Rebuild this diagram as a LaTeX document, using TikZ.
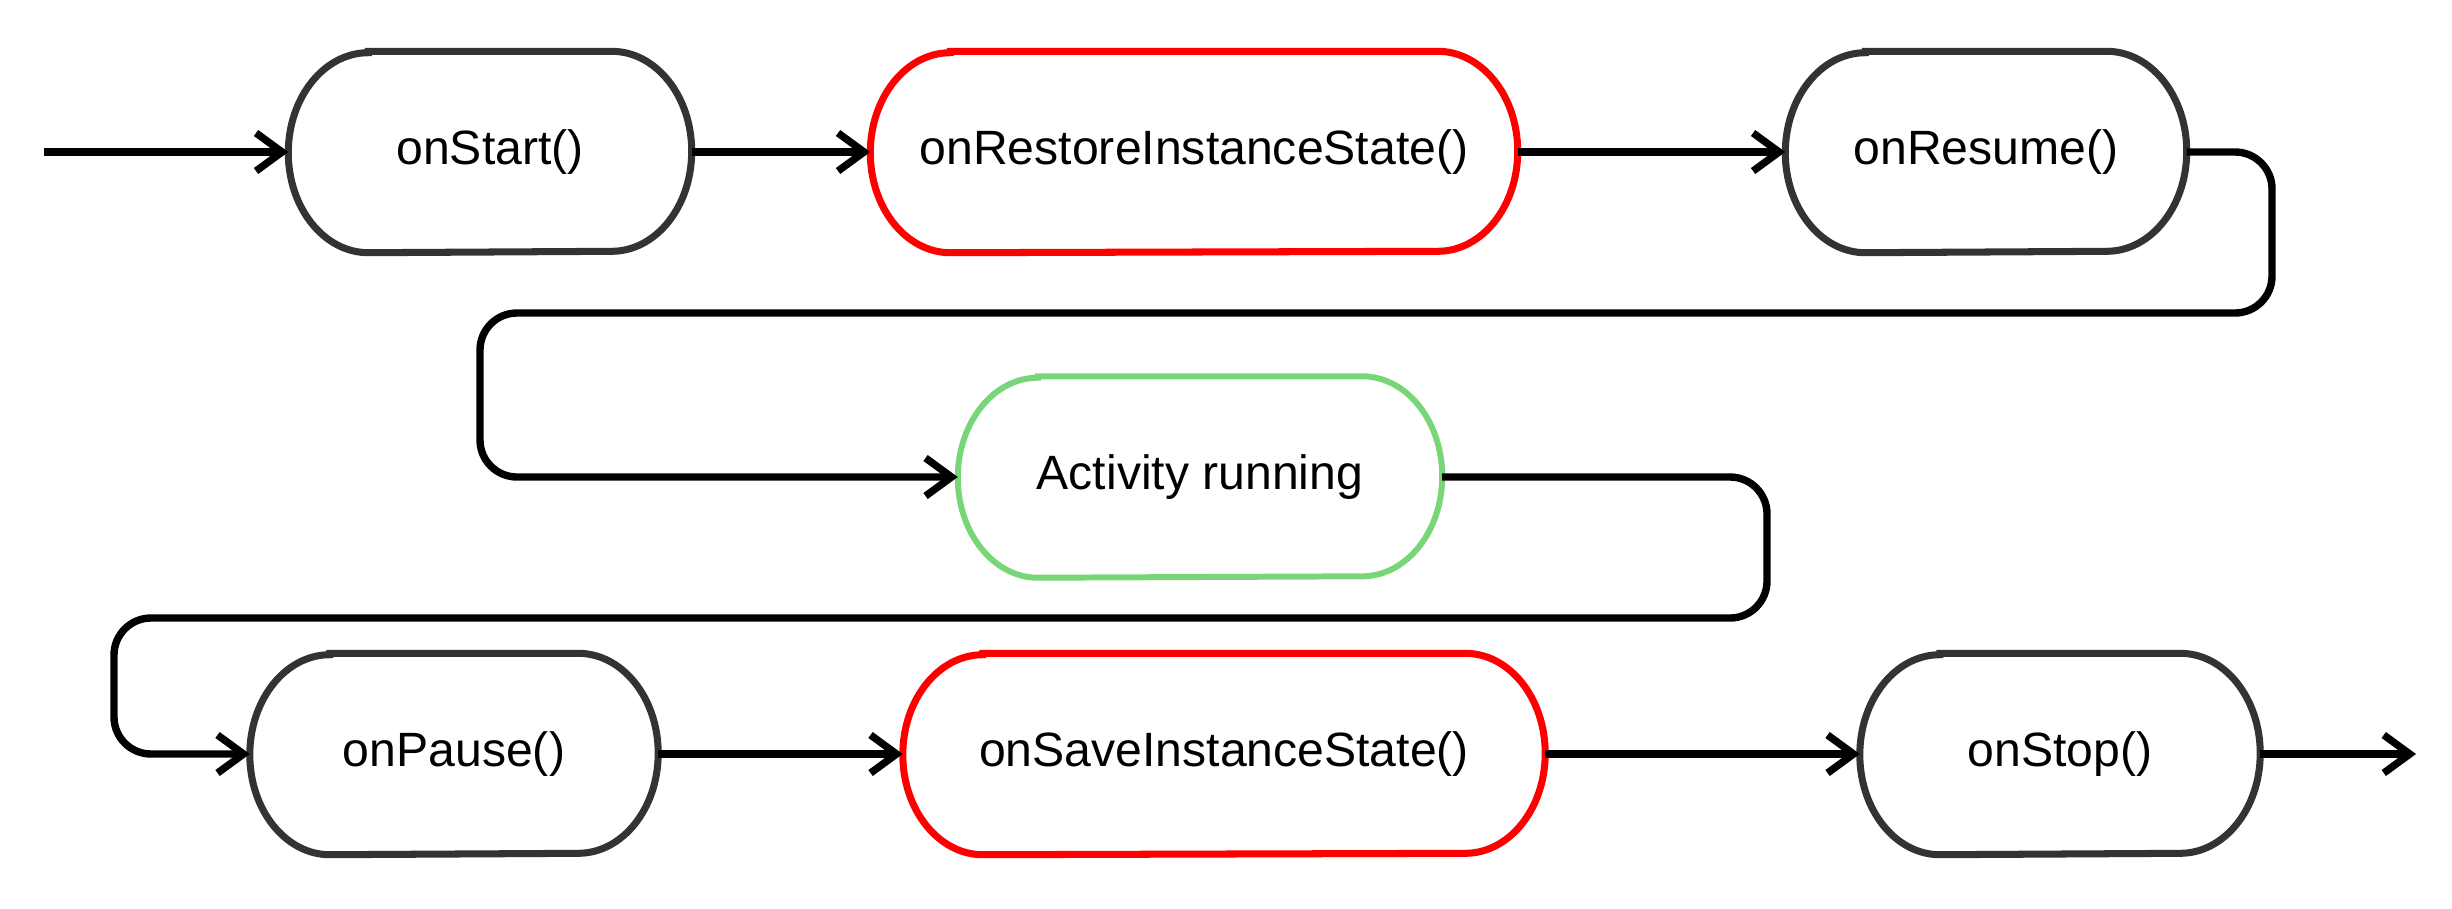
\documentclass[tikz,border=0pt]{standalone}
\usepackage{fontspec}
\setmainfont{Liberation Sans}
\usepackage{xcolor}
\definecolor{lcgray}{RGB}{51,51,51}
\definecolor{lcred}{RGB}{255,0,0}
\definecolor{lcgreen}{RGB}{120,214,120}
\definecolor{lcblack}{RGB}{0,0,0}
\usetikzlibrary{arrows.meta,positioning,calc}

\tikzset{
  stage/.style={minimum height=2cm, inner sep=0pt, align=center,
    font=\fontsize{13.7pt}{16pt}\selectfont},
  flow/.style={line width=2.1pt, lcblack, rounded corners=3.7mm,
    -{Straight Barb[length=2.6mm, width=3.8mm]}},
}

\begin{document}
\begin{tikzpicture}
  \useasboundingbox (0,0) rectangle (24.52,9.08);

  %% Top row: start -> restore -> resume
  \node[stage, minimum width=4.02cm] (start) at (4.90,7.56) {onStart()};
  \node[stage, minimum width=6.46cm] (restore) at (11.94,7.56) {onRestoreInstanceState()};
  \node[stage, minimum width=4.00cm] (resume) at (19.86,7.56) {onResume()};

  %% Middle row: running state
  \node[stage, minimum width=4.83cm] (running) at (12.00,4.31) {Activity running};

  %% Bottom row: pause -> save -> stop
  \node[stage, minimum width=4.07cm] (pause) at (4.54,1.54) {onPause()};
  \node[stage, minimum width=6.41cm] (save) at (12.24,1.54) {onSaveInstanceState()};
  \node[stage, minimum width=3.99cm] (stop) at (20.60,1.54) {onStop()};

  %% Outlines with elliptic corners
  \foreach \n/\c/\w in {start/lcgray/2pt, restore/lcred/2pt, resume/lcgray/2pt,
      running/lcgreen/1.7pt, pause/lcgray/2pt, save/lcred/2pt, stop/lcgray/2pt}
    \draw[\c, line width=\w]
      ([xshift=8mm]\n.north west) -- ([xshift=-8mm]\n.north east)
      arc[start angle=90, end angle=-90, x radius=8mm, y radius=1cm]
      -- ([xshift=8mm]\n.south west)
      arc[start angle=270, end angle=90, x radius=8mm, y radius=1cm] -- cycle;

  %% Free ends and bends
  \coordinate (entry) at (0.44,7.56);
  \coordinate (exit) at (24.16,1.54);
  \coordinate (bendA) at (22.72,5.95);
  \coordinate (bendB) at (4.80,4.31);
  \coordinate (bendC) at (17.67,2.90);
  \coordinate (bendD) at (1.14,1.54);

  %% Connectors
  \draw[flow] (entry) -- (start.west);
  \draw[flow] (start.east) -- (restore.west);
  \draw[flow] (restore.east) -- (resume.west);
  \draw[flow] (resume.east) -| (bendA) -| (bendB) -- (running.west);
  \draw[flow] (running.east) -| (bendC) -| (bendD) -- (pause.west);
  \draw[flow] (pause.east) -- (save.west);
  \draw[flow] (save.east) -- (stop.west);
  \draw[flow] (stop.east) -- (exit);
\end{tikzpicture}
\end{document}
